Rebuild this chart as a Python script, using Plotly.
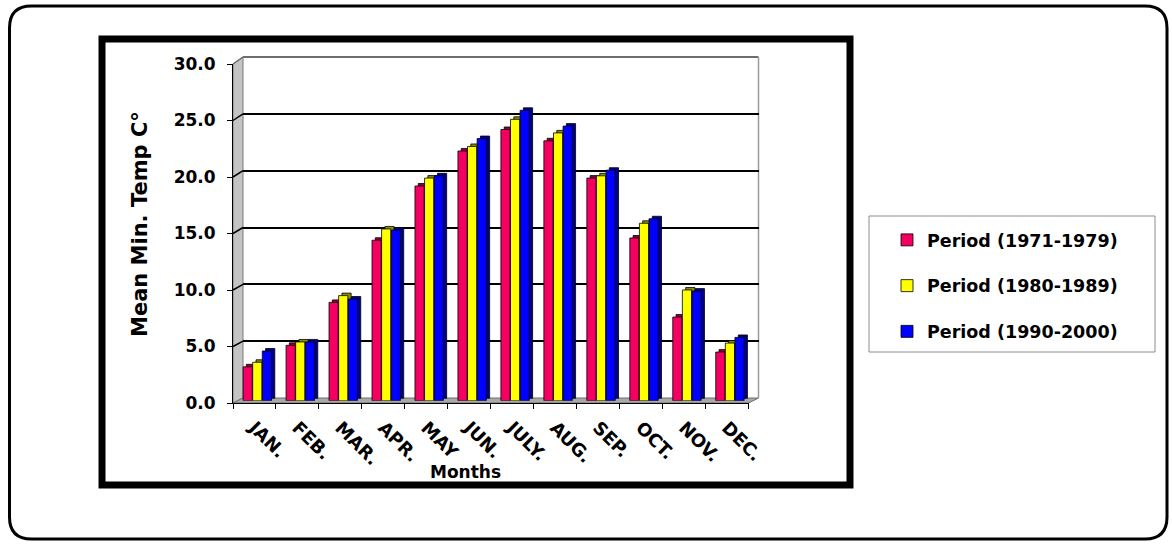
import plotly.graph_objects as go

# Mean minimum temperature (°C) per month for three periods
months = ["JAN.", "FEB.", "MAR.", "APR.", "MAY", "JUN.", "JULY.", "AUG.", "SEP.", "OCT.", "NOV.", "DEC."]
period_1971_1979 = [3.0, 4.9, 8.7, 14.2, 19.0, 22.1, 24.0, 23.0, 19.7, 14.4, 7.4, 4.3]
period_1980_1989 = [3.4, 5.2, 9.3, 15.2, 19.7, 22.5, 24.9, 23.7, 19.9, 15.7, 9.8, 5.1]
period_1990_2000 = [4.4, 5.2, 9.0, 15.1, 19.9, 23.2, 25.7, 24.3, 20.4, 16.1, 9.7, 5.6]
series_names = ["Period (1971-1979)", "Period (1980-1989)", "Period (1990-2000)"]
y_ticks = [0, 5, 10, 15, 20, 25, 30]

W, H = 1172, 544
FONT = "DejaVu Sans"


def fx(x):
    return x / W


def fy(y):
    return 1 - y / H


# pixel frame of the pseudo-3D plot box
FRONT_L, FRONT_R, FRONT_B, FRONT_T = 233, 748.6, 403, 64
BACK_L, BACK_R, BACK_B, BACK_T = 243, 758.5, 398, 57
BAR_B = 400.7
UNIT = (FRONT_B - FRONT_T) / 30.0

face_colors = ["#F50062", "#FFFF00", "#0000FF"]
side_colors = ["#8C0038", "#8C8C00", "#00008C"]
series = [period_1971_1979, period_1980_1989, period_1990_2000]

bar_w = 0.214
first_off = -0.265
step = 0.2235
depth_x = 0.077
depth_y = 0.22

fig = go.Figure()

# bars live on the third subplot (mid depth of the box)
for i, (vals, name) in enumerate(zip(series, series_names)):
    off = first_off + i * step
    fig.add_trace(go.Bar(
        x=months, y=vals, base=[depth_y] * len(vals), width=[bar_w] * len(vals),
        offset=off + depth_x, marker=dict(color=side_colors[i], line=dict(color="#000000", width=0.8)),
        xaxis="x3", yaxis="y3", showlegend=False, hoverinfo="skip",
    ))
    fig.add_trace(go.Bar(
        x=months, y=vals, width=[bar_w] * len(vals), offset=off, name=name,
        marker=dict(color=face_colors[i], line=dict(color="#000000", width=0.8)),
        xaxis="x3", yaxis="y3", legendgroup=name,
    ))

shapes = []
# left side wall and floor
shapes.append(dict(type="path", xref="paper", yref="paper", layer="below",
                   path=f"M {fx(FRONT_L)},{fy(FRONT_B)} L {fx(FRONT_L)},{fy(FRONT_T)} L {fx(BACK_L)},{fy(BACK_T)} L {fx(BACK_L)},{fy(BACK_B)} Z",
                   fillcolor="#c4c4c4", line=dict(color="#7a7a7a", width=1)))
shapes.append(dict(type="path", xref="paper", yref="paper", layer="below",
                   path=f"M {fx(FRONT_L)},{fy(FRONT_B)} L {fx(FRONT_R)},{fy(FRONT_B)} L {fx(BACK_R)},{fy(BACK_B)} L {fx(BACK_L)},{fy(BACK_B)} Z",
                   fillcolor="#a9a9a9", line=dict(color="#6e6e6e", width=1)))
# back wall top and right edges
shapes.append(dict(type="line", xref="paper", yref="paper", layer="below",
                   x0=fx(BACK_L), x1=fx(BACK_R), y0=fy(BACK_T), y1=fy(BACK_T),
                   line=dict(color="#6e6e6e", width=2)))
shapes.append(dict(type="line", xref="paper", yref="paper", layer="below",
                   x0=fx(BACK_R), x1=fx(BACK_R), y0=fy(BACK_T), y1=fy(BACK_B),
                   line=dict(color="#9a9a9a", width=1.5)))
# gridline continuations across the side wall
for v in y_ticks[1:]:
    shapes.append(dict(type="line", xref="paper", yref="paper", layer="below",
                       x0=fx(FRONT_L), y0=fy(FRONT_B - v * UNIT),
                       x1=fx(BACK_L), y1=fy(BACK_B - v * (BACK_B - BACK_T) / 30.0),
                       line=dict(color="#000000" if v < 30 else "#6e6e6e", width=1.5)))
# legend frame
shapes.append(dict(type="rect", xref="paper", yref="paper",
                   x0=fx(869), x1=fx(1155), y0=fy(216), y1=fy(352),
                   line=dict(color="#8c8c8c", width=1)))
# inner heavy frame around the chart
shapes.append(dict(type="rect", xref="paper", yref="paper",
                   x0=fx(102), x1=fx(850), y0=fy(39), y1=fy(485),
                   line=dict(color="#000000", width=7)))
# outer rounded frame
L, T, R, B, r = 9.5, 6, 1167, 539, 22
rounded = (f"M {fx(L + r)},{fy(T)} L {fx(R - r)},{fy(T)} Q {fx(R)},{fy(T)} {fx(R)},{fy(T + r)} "
           f"L {fx(R)},{fy(B - r)} Q {fx(R)},{fy(B)} {fx(R - r)},{fy(B)} "
           f"L {fx(L + r)},{fy(B)} Q {fx(L)},{fy(B)} {fx(L)},{fy(B - r)} "
           f"L {fx(L)},{fy(T + r)} Q {fx(L)},{fy(T)} {fx(L + r)},{fy(T)} Z")
shapes.append(dict(type="path", xref="paper", yref="paper", path=rounded,
                   line=dict(color="#000000", width=3)))

fig.update_layout(
    width=W, height=H, autosize=False,
    margin=dict(l=0, r=0, t=0, b=0, pad=0, autoexpand=False),
    paper_bgcolor="#ffffff", plot_bgcolor="rgba(0,0,0,0)",
    barmode="overlay",
    font=dict(family=FONT, color="#000000"),
    # back wall: gridlines only
    xaxis=dict(domain=[fx(BACK_L), fx(BACK_R)], visible=False, range=[0, 1], automargin=False),
    yaxis=dict(domain=[fy(BACK_B), fy(BACK_T)], range=[0, 30], tickvals=y_ticks[1:-1],
               showticklabels=False, ticks="", showgrid=True, gridcolor="#000000", gridwidth=2,
               zeroline=False, showline=False, automargin=False),
    # front axes with ticks and labels
    xaxis2=dict(domain=[fx(FRONT_L), fx(FRONT_R)], anchor="y2", type="category",
                categoryorder="array", categoryarray=months, range=[-0.5, 11.5],
                showline=True, linecolor="#000000", linewidth=1, ticks="outside", ticklen=5,
                tickcolor="#000000", tickson="boundaries", tickangle=45, showgrid=False,
                ticklabelstandoff=6, automargin=False,
                tickfont=dict(family=FONT, size=18, weight="bold")),
    yaxis2=dict(domain=[fy(FRONT_B), fy(FRONT_T)], anchor="x2", range=[0, 30], tickvals=y_ticks,
                tickformat=".1f", showline=True, linecolor="#000000", linewidth=1,
                ticks="outside", ticklen=5, tickcolor="#000000", showgrid=False, zeroline=False,
                ticklabelstandoff=8, automargin=False,
                tickfont=dict(family=FONT, size=17, weight="bold")),
    # bar layer
    xaxis3=dict(domain=[fx(FRONT_L), fx(FRONT_R)], anchor="y3", type="category",
                categoryorder="array", categoryarray=months, range=[-0.5, 11.5], visible=False,
                automargin=False),
    yaxis3=dict(domain=[fy(BAR_B), fy(BAR_B - 30 * UNIT)], anchor="x3", range=[0, 30], visible=False,
                automargin=False),
    legend=dict(x=fx(887), y=fy(222), xanchor="left", yanchor="top", bgcolor="rgba(0,0,0,0)",
                borderwidth=0, tracegroupgap=20,
                font=dict(family=FONT, size=17.5, weight="bold")),
    shapes=shapes,
    annotations=[
        dict(text="Mean Min. Temp C°", xref="paper", yref="paper", x=fx(140), y=fy(224),
             xanchor="center", yanchor="middle", textangle=-90, showarrow=False,
             font=dict(family=FONT, size=21, weight="bold")),
        dict(text="Months", xref="paper", yref="paper", x=fx(466), y=fy(472),
             xanchor="center", yanchor="middle", showarrow=False,
             font=dict(family=FONT, size=17, weight="bold")),
    ],
)

# placeholder traces so the back-wall and front subplots get drawn
fig.add_trace(go.Scatter(x=[None], y=[None], xaxis="x", yaxis="y", showlegend=False, hoverinfo="skip"))
fig.add_trace(go.Scatter(x=months, y=[None] * len(months), xaxis="x2", yaxis="y2",
                         showlegend=False, hoverinfo="skip"))

fig.write_html("out.html")
